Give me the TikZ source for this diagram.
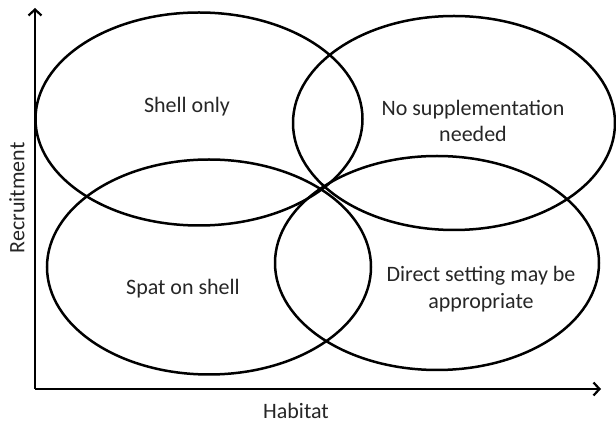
\documentclass[tikz,border=0pt]{standalone}
\usepackage{fontspec}
\setmainfont{Carlito}
\usetikzlibrary{arrows.meta}

\tikzset{
  region/.style={line width=2.5pt},
  axis/.style={line width=2.6pt,-{Straight Barb[length=6pt,width=13pt,line width=2.2pt]}},
  lbl/.style={align=center,text=black!85,font=\fontsize{22}{26.5}\selectfont}
}

\begin{document}
\begin{tikzpicture}[x=1pt,y=-1pt]
  \useasboundingbox (0,0) rectangle (616,427);

	% the four regions
	\draw[region] (199,119) ellipse (163.5 and 106.5);
	\draw[region] (454,123) ellipse (161 and 107);
	\draw[region] (209,267) ellipse (162 and 107.5);
	\draw[region] (437,263) ellipse (162 and 107);

	% axes
	\coordinate (origin) at (35,389);
	\coordinate (ytop) at (35,8);
	\coordinate (xend) at (601,389);
	\draw[axis] (origin) -- (ytop);
	\draw[axis] (origin) -- (xend);

	\node[lbl] (shellonly) at (187,107) {Shell only};
	\node[lbl] (nosupp) at (473,121) {No supplementation\\needed};
	\node[lbl] (spat) at (183,289) {Spat on shell};
	\node[lbl] (direct) at (481,289) {Direct setting may be\\appropriate};
	\node[lbl] (habitat) at (296,411) {Habitat};
	\node[lbl,rotate=90] (recruit) at (17,198) {Recruitment};
\end{tikzpicture}
\end{document}
